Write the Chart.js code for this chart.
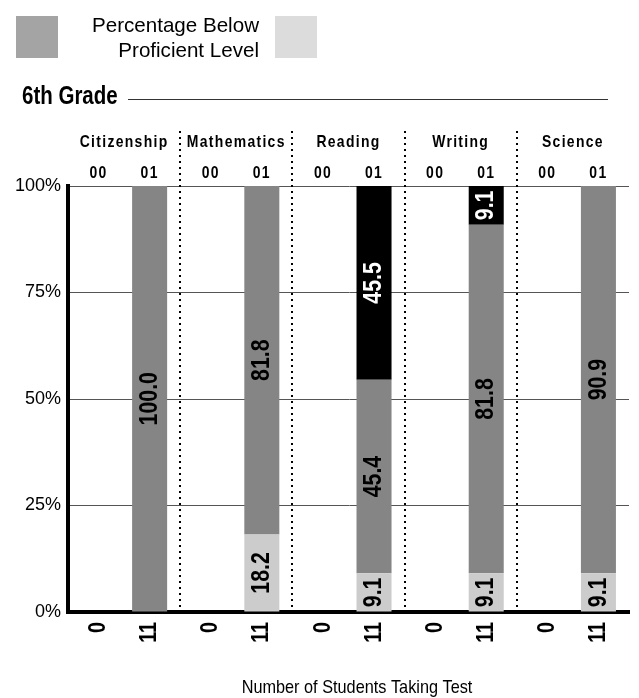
<!DOCTYPE html>
<html>
<head>
<meta charset="utf-8">
<script src="https://cdn.jsdelivr.net/npm/chart.js@4/dist/chart.umd.min.js"></script>
<style>
  html, body { margin: 0; padding: 0; background: #fff; }
  #wrap { width: 639px; height: 698px; }
</style>
</head>
<body>
<div id="wrap"><canvas id="chart" width="639" height="698"></canvas></div>
<script>
// data
const subjects = ['Citizenship', 'Mathematics', 'Reading', 'Writing', 'Science'];
const years = ['00', '01'];
const students00 = [0, 0, 0, 0, 0];
const students01 = [11, 11, 11, 11, 11];

// year 00: nobody tested
const light00 = [0, 0, 0, 0, 0];
const dark00 = [0, 0, 0, 0, 0];
const black00 = [0, 0, 0, 0, 0];

// year 01
const light01 = [0, 18.2, 9.1, 9.1, 9.1];
const dark01 = [100.0, 81.8, 45.4, 81.8, 90.9];
const black01 = [0, 0, 45.5, 9.1, 0];

const yTicks = [0, 25, 50, 75, 100];

const LIGHT = '#cccccc';
const DARK = '#858585';
const BLACK = '#000000';
const REG = "'Liberation Sans', Arial, sans-serif";

function ds(label, data, color, stack) {
  return {
    label: label,
    data: data,
    backgroundColor: color,
    stack: stack,
    borderWidth: 0,
    categoryPercentage: 0.91,
    barPercentage: 0.686
  };
}

// no narrow font installed, so squeeze Liberation Sans horizontally
function narrowText(ctx, text, x, y, o) {
  ctx.save();
  ctx.translate(x, y);
  if (o.rotate) ctx.rotate(o.rotate);
  ctx.scale(o.sx || 0.82, 1);
  ctx.font = o.font;
  ctx.letterSpacing = o.spacing || '0px';
  ctx.textAlign = o.align || 'left';
  ctx.textBaseline = o.baseline || 'alphabetic';
  ctx.fillStyle = o.color || '#000';
  ctx.fillText(text, 0, 0);
  ctx.restore();
}

// everything the library doesn't draw itself
const decorations = {
  id: 'decorations',
  beforeDraw(chart) {
    const ctx = chart.ctx;
    ctx.save();
    ctx.fillStyle = '#fff';
    ctx.fillRect(0, 0, chart.width, chart.height);
    ctx.restore();
  },
  afterDraw(chart) {
    const ctx = chart.ctx;
    const xs = chart.scales.x;
    const area = chart.chartArea;
    ctx.save();

    // legend
    ctx.fillStyle = '#a4a4a4';
    ctx.fillRect(16, 16, 42, 42);
    ctx.fillStyle = '#dcdcdc';
    ctx.fillRect(275, 16, 42, 42);
    narrowText(ctx, 'Percentage Below', 259, 32, { font: '21px ' + REG, sx: 0.98, align: 'right' });
    narrowText(ctx, 'Proficient Level', 259, 57, { font: '21px ' + REG, sx: 0.98, align: 'right' });

    // grade title with rule
    narrowText(ctx, '6th Grade', 22, 104, { font: 'bold 25px ' + REG, sx: 0.82 });
    ctx.strokeStyle = '#333';
    ctx.lineWidth = 1;
    ctx.beginPath();
    ctx.moveTo(128, 99.5);
    ctx.lineTo(608, 99.5);
    ctx.stroke();

    // dotted separators between subjects
    ctx.strokeStyle = '#000';
    ctx.lineWidth = 2;
    ctx.setLineDash([2, 4]);
    for (let i = 0; i < subjects.length - 1; i++) {
      const sx = Math.round((xs.getPixelForValue(i) + xs.getPixelForValue(i + 1)) / 2);
      ctx.beginPath();
      ctx.moveTo(sx, 131);
      ctx.lineTo(sx, area.bottom - 2);
      ctx.stroke();
    }
    ctx.setLineDash([]);

    // subject names
    subjects.forEach((s, i) => {
      narrowText(ctx, s, xs.getPixelForValue(i), 147,
        { font: 'bold 17px ' + REG, spacing: '1.6px', align: 'center' });
    });

    // year labels and student counts, placed on the bars
    const meta00 = chart.getDatasetMeta(0);
    const meta01 = chart.getDatasetMeta(3);
    [meta00, meta01].forEach((meta, k) => {
      const counts = k === 0 ? students00 : students01;
      meta.data.forEach((bar, i) => {
        narrowText(ctx, years[k], bar.x, 178,
          { font: 'bold 17px ' + REG, spacing: '1.6px', align: 'center' });
        narrowText(ctx, String(counts[i]), bar.x, area.bottom + 10,
          { font: 'bold 24px ' + REG, rotate: -Math.PI / 2, align: 'right', baseline: 'middle' });
      });
    });

    // values inside the bar segments
    chart.data.datasets.forEach((d, di) => {
      const meta = chart.getDatasetMeta(di);
      meta.data.forEach((bar, i) => {
        const v = d.data[i];
        if (!v) return;
        narrowText(ctx, v.toFixed(1), bar.x, (bar.y + bar.base) / 2, {
          font: 'bold 26px ' + REG,
          rotate: -Math.PI / 2,
          align: 'center',
          baseline: 'middle',
          color: d.backgroundColor === BLACK ? '#fff' : '#000'
        });
      });
    });

    // x axis title
    narrowText(ctx, 'Number of Students Taking Test', 357, 693,
      { font: '18.5px ' + REG, sx: 0.88, align: 'center' });

    ctx.restore();
  }
};

new Chart(document.getElementById('chart'), {
  type: 'bar',
  data: {
    labels: subjects,
    datasets: [
      ds('Proficient 00', light00, LIGHT, '00'),
      ds('Below Proficient 00', dark00, DARK, '00'),
      ds('Advanced 00', black00, BLACK, '00'),
      ds('Proficient 01', light01, LIGHT, '01'),
      ds('Below Proficient 01', dark01, DARK, '01'),
      ds('Advanced 01', black01, BLACK, '01')
    ]
  },
  options: {
    responsive: false,
    animation: false,
    layout: { padding: { top: 186, right: 10, left: 0, bottom: 0 } },
    plugins: { legend: { display: false }, tooltip: { enabled: false } },
    scales: {
      x: {
        stacked: true,
        grid: { display: false, drawTicks: false },
        ticks: { display: false },
        border: { color: '#000', width: 4 },
        afterFit: (s) => { s.height = 86; }
      },
      y: {
        stacked: true,
        min: 0,
        max: 100,
        afterBuildTicks: (s) => { s.ticks = yTicks.map(v => ({ value: v })); },
        ticks: {
          callback: (v) => v + '%',
          padding: 7,
          color: '#000',
          font: { family: REG, size: 18 }
        },
        grid: { color: '#555', lineWidth: 1, drawTicks: false },
        border: { color: '#000', width: 4 },
        afterFit: (s) => { s.width = 68; }
      }
    }
  },
  plugins: [decorations]
});
</script>
</body>
</html>
